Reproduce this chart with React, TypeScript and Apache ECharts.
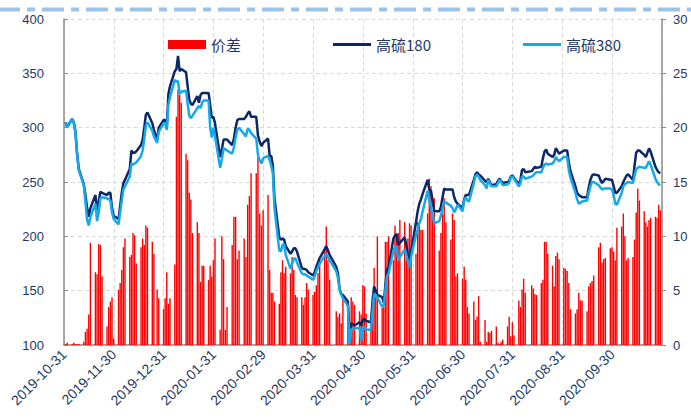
import React, { useEffect, useRef } from 'react';
import * as echarts from 'echarts';

// Month-end tick labels (one per vertical grid line)
const monthLabels = [
  '2019-10-31', '2019-11-30', '2019-12-31', '2020-01-31', '2020-02-29', '2020-03-31',
  '2020-04-30', '2020-05-31', '2020-06-30', '2020-07-31', '2020-08-31', '2020-09-30',
];
const seriesNames = ['价差', '高硫180', '高硫380'];

// Weekly rows, Monday..Friday; first row is the week of Mon 2019-10-28 (data begins Thu 2019-10-31)
const hs180: (number | null)[][] = [
  [null, null, null, 305, 301],
  [308, 305, 296, 276, 262],
  [248, 238, 226, 218, 226],
  [238, 224, 232, 241, 240],
  [238, 240, 240, 226, 219],
  [216, 228, 240, 249, 252],
  [262, 279, 277, 277, 278],
  [284, 289, 300, 312, 314],
  [304, 298, null, 289, 300],
  [307, 307, 299, 331, 338],
  [352, 354, 366, 352, 354],
  [351, 338, 326, 322, 321],
  [329, 323, 330, 332, 332],
  [332, 321, 309, 310, 304],
  [273, 280, 289, 289, 289],
  [284, 290, 300, 307, 308],
  [308, 310, 313, 315, 310],
  [310, 293, 287, 283, 286],
  [290, 274, 274, 265, 235],
  [199, 197, 198, 197, 191],
  [184, 186, 189, 189, 186],
  [171, 170, 170, 169, 167],
  [164, 167, 172, 176, 180],
  [188, 191, 187, 183, null],
  [172, 166, 152, 147, 146],
  [140, 112, 120, 119, 118],
  [121, 118, 123, 124, 122],
  [121, 140, 154, 150, 146],
  [144, 139, 155, 169, 172],
  [198, 201, 202, 192, 194],
  [199, 192, 183, 176, 186],
  [213, 223, 230, 234, 239],
  [252, 243, 242, 233, 223],
  [223, 227, 236, 244, 243],
  [243, 243, 236, 232, 230],
  [226, 234, 238, 238, 238],
  [252, 257, 259, 257, 256],
  [251, 250, 253, 250, 247],
  [248, 251, 253, 251, 249],
  [250, 251, 255, 256, 254],
  [248, 252, 261, 262, 259],
  [null, 260, 262, 264, 263],
  [264, 272, 278, 280, 276],
  [273, 275, 281, 279, 276],
  [279, 279, 279, 268, 260],
  [246, 240, 238, 237, 236],
  [236, 245, 252, 256, 257],
  [256, 252, 249, 251, 253],
  [252, 252, 246, 240, 240],
  [246, 250, 253, 256, 257],
  [252, 265, 277, 279, 279],
  [275, 273, 277, 281, 278],
  [264, 261, 259, 258],
];

const hs380: (number | null)[][] = [
  [null, null, null, 305, 300],
  [308, 304, 295, 275, 261],
  [247, 232, 215, 210, 218],
  [230, 214, 222, 235, 236],
  [235, 234, 233, 222, 216],
  [211, 222, 233, 243, 246],
  [255, 267, 266, 267, 268],
  [274, 279, 290, 302, 305],
  [297, 292, null, 286, 296],
  [304, 304, 298, 321, 328],
  [344, 342, 343, 331, 333],
  [334, 322, 311, 309, 311],
  [318, 320, 318, 323, 325],
  [325, 300, 291, 300, 292],
  [263, 271, 281, 280, 279],
  [276, 282, 291, 298, 300],
  [294, 292, 299, 298, 295],
  [290, 275, 270, 267, 272],
  [274, 270, 265, 258, 226],
  [187, 186, 192, 193, 183],
  [170, 175, 179, 180, 176],
  [166, 165, 165, 164, 163],
  [160, 163, 168, 171, 175],
  [182, 184, 181, 178, null],
  [168, 162, 151, 146, 143],
  [136, 101, 114, 115, 115],
  [116, 104, 116, 116, 114],
  [114, 130, 147, 146, 144],
  [135, 137, 150, 163, 166],
  [187, 190, 191, 178, 181],
  [188, 183, 177, 172, 181],
  [201, 206, 212, 216, 223],
  [242, 233, 227, 220, 212],
  [214, 219, 226, 232, 231],
  [228, 226, 222, 225, 229],
  [223, 233, 236, 233, 232],
  [249, 255, 257, 255, 252],
  [247, 244, 252, 249, 246],
  [246, 249, 252, 250, 247],
  [248, 249, 254, 255, 253],
  [246, 249, 255, 255, 253],
  [null, 255, 256, 258, 259],
  [259, 263, 266, 267, 266],
  [267, 269, 273, 271, 269],
  [273, 273, 273, 261, 254],
  [240, 234, 230, 231, 232],
  [233, 240, 246, 250, 250],
  [247, 245, 243, 244, 244],
  [244, 243, 238, 230, 229],
  [240, 246, 248, 249, 250],
  [249, 256, 262, 263, 264],
  [263, 263, 266, 269, 266],
  [253, 250, 248, 247],
];

const spread: (number | null)[][] = [
  [null, null, null, 0.1, 0.2],
  [0.1, 0.2, 0.1, 0.1, 0.1],
  [0.3, 1.2, 1.5, 2.8, 9.4],
  [6.7, 6.5, 9.3, 9.2, 6.3],
  [1.7, 3.5, 4.0, 4.4, 0.6],
  [5.1, 5.7, 6.9, 9.0, 9.8],
  [8.1, 8.3, 10.3, 10.1, 7.5],
  [9.0, 9.8, 9.2, 11.0, 10.8],
  [9.5, 8.4, null, 5.1, 4.3],
  [3.3, 4.3, 6.7, 3.8, 4.3],
  [7.4, 21.0, 23.5, 23.0, 22.3],
  [17.6, 17.0, 14.0, 13.4, 10.3],
  [11.3, 10.3, 5.8, 7.3, 7.3],
  [6.0, 7.3, 6.3, 7.8, 9.8],
  [1.4, 10.0, 7.9, 1.4, 3.5],
  [9.2, 11.8, 11.8, 7.9, 8.7],
  [9.8, 8.1, 12.9, 13.7, 15.8],
  [15.8, 17.3, 12.1, 11.0, 12.4],
  [13.8, 6.9, 4.8, 4.8, 4.0],
  [3.8, 6.7, 7.8, 6.6, 7.2],
  [6.6, 8.1, 6.9, 4.6, 4.4],
  [4.4, 3.7, 4.4, 5.7, 5.1],
  [4.6, 4.9, 5.5, 6.6, 7.8],
  [9.0, 10.9, 7.8, 6.0, null],
  [3.1, 2.6, 2.9, 2.0, 4.4],
  [2.6, 1.1, 4.4, 4.0, 3.7],
  [3.1, 2.8, 5.5, 5.4, 2.9],
  [2.0, 4.6, 7.1, 4.4, 10.0],
  [3.4, 3.5, 9.5, 9.5, 10.0],
  [7.8, 11.0, 10.1, 10.3, 11.5],
  [11.3, 8.0, 9.8, 11.2, 11.0],
  [8.4, 11.3, 11.0, 10.6, 10.6],
  [12.1, 15.3, 14.6, 12.0, 13.5],
  [8.7, 10.3, 12.1, 13.5, 11.3],
  [9.7, 12.1, 11.5, 6.3, 6.6],
  [6.1, 7.2, 6.0, 3.5, 2.9],
  [4.0, 2.3, 2.6, 4.5, 0.3],
  [2.3, 0.3, 1.2, 1.1, 1.3],
  [1.7, 0.2, 0.1, 0.3, 0.5],
  [1.7, 2.6, 0.8, 2.1, 0.9],
  [4.1, 3.5, 5.1, 6.1, 4.8],
  [null, 5.5, 5.2, 4.7, 4.6],
  [5.7, 6.0, 9.5, 9.5, 8.4],
  [7.3, 5.4, 8.2, 8.5, 7.9],
  [7.1, 7.0, 6.8, 5.7, 3.3],
  [2.9, 3.3, 4.8, 4.1, 4.1],
  [3.1, 5.4, 5.7, 5.9, 6.4],
  [9.0, 9.4, 7.6, 7.9, 8.0],
  [8.9, 9.0, 8.6, 7.8, 10.8],
  [10.9, 12.1, 10.0, 7.8, 8.0],
  [8.1, 9.7, 12.2, 14.4, 13.3],
  [12.3, 11.3, 10.9, 11.5, 11.7],
  [11.8, 11.7, 12.9, 12.4],
];

const FIRST_MONDAY = Date.UTC(2019, 9, 28);
const DAY_MS = 86400000;
const POS_SHIFT = 0.03;

// position of a date in "months since 2019-10-31" (each month spans one equal grid cell)
function monthPos(t: number): number {
  const d = new Date(t);
  const y = d.getUTCFullYear();
  const m = d.getUTCMonth();
  const day = d.getUTCDate();
  const dim = new Date(Date.UTC(y, m + 1, 0)).getUTCDate();
  return (y - 2019) * 12 + m - 10 + day / dim;
}

function toPoints(rows: (number | null)[][]): [number, number][] {
  const out: [number, number][] = [];
  rows.forEach((row, w) => {
    row.forEach((v, i) => {
      if (v === null || v === undefined) return;
      const p = monthPos(FIRST_MONDAY + (w * 7 + i) * DAY_MS);
      if (p < 0) return;
      out.push([p + POS_SHIFT, v]);
    });
  });
  return out;
}

const TEXT_COLOR = '#1F3864';
const AXIS_COLOR = '#8C8C8C';
const GRID_COLOR = '#D9D9D9';
const FONT = 'Liberation Sans, Arial, Noto Sans CJK SC, sans-serif';
const LINE_ICON = 'path://M0,0H38V3H0Z';

export default function App() {
  const ref = useRef<HTMLDivElement>(null);

  useEffect(() => {
    if (!ref.current) return;
    const chart = echarts.init(ref.current, undefined, { renderer: 'svg' });
    const option: any = {
      animation: false,
      backgroundColor: '#ffffff',
      textStyle: { fontFamily: FONT },
      grid: { left: 64, right: 29, top: 19, bottom: 74 },
      legend: {
        left: 163,
        top: 32,
        itemWidth: 38,
        itemHeight: 9,
        itemGap: 92,
        symbolKeepAspect: true,
        textStyle: { fontSize: 15, color: TEXT_COLOR, fontFamily: 'Noto Sans CJK SC' },
        data: [
          { name: seriesNames[0], icon: 'rect' },
          { name: seriesNames[1], icon: LINE_ICON, itemStyle: { color: '#0B2767' } },
          { name: seriesNames[2], icon: LINE_ICON, itemStyle: { color: '#16A9EA' } },
        ],
      },
      xAxis: {
        type: 'value',
        min: 0,
        max: 12,
        interval: 1,
        axisLine: { show: true, lineStyle: { color: AXIS_COLOR, width: 1.5 } },
        axisTick: { show: false },
        axisLabel: {
          rotate: 45,
          margin: 7,
          fontSize: 14,
          color: TEXT_COLOR,
          fontFamily: FONT,
          formatter: (v: number) => monthLabels[Math.round(v)] ?? '',
        },
        splitLine: { show: true, lineStyle: { color: GRID_COLOR, type: [4, 3], width: 1 } },
      },
      yAxis: [
        {
          type: 'value',
          min: 100,
          max: 400,
          interval: 50,
          position: 'left',
          axisLine: { show: true, lineStyle: { color: AXIS_COLOR, width: 1.5 } },
          axisTick: { show: true, inside: true, length: 4, lineStyle: { color: AXIS_COLOR } },
          axisLabel: { margin: 20, fontSize: 13, color: TEXT_COLOR, fontFamily: FONT },
          splitLine: { show: true, lineStyle: { color: GRID_COLOR, type: [4, 3], width: 1 } },
        },
        {
          type: 'value',
          min: 0,
          max: 30,
          interval: 5,
          position: 'right',
          axisLine: { show: true, lineStyle: { color: AXIS_COLOR, width: 1.5 } },
          axisTick: { show: true, inside: false, length: 4, lineStyle: { color: AXIS_COLOR } },
          axisLabel: { margin: 11, fontSize: 13, color: TEXT_COLOR, fontFamily: FONT },
          splitLine: { show: false },
        },
      ],
      series: [
        {
          name: seriesNames[0],
          type: 'bar',
          yAxisIndex: 1,
          barWidth: 1.4,
          itemStyle: { color: '#FF0000' },
          data: toPoints(spread),
        },
        {
          name: seriesNames[1],
          type: 'line',
          yAxisIndex: 0,
          symbol: 'none',
          showSymbol: false,
          lineStyle: { color: '#0B2767', width: 2.5 },
          itemStyle: { color: '#0B2767' },
          data: toPoints(hs180),
        },
        {
          name: seriesNames[2],
          type: 'line',
          yAxisIndex: 0,
          symbol: 'none',
          showSymbol: false,
          lineStyle: { color: '#16A9EA', width: 2.5 },
          itemStyle: { color: '#16A9EA' },
          data: toPoints(hs380),
        },
      ],
      graphic: [
        {
          type: 'line',
          silent: true,
          shape: { x1: -2, y1: 9.5, x2: 693, y2: 9.5 },
          style: { stroke: '#9DC3E6', lineWidth: 4, lineDash: [22, 7, 8, 7] },
        },
      ],
    };
    chart.setOption(option);
    return () => chart.dispose();
  }, []);

  return (
    <div
      ref={ref}
      style={{ position: 'fixed', left: 0, top: 0, width: 691, height: 419, background: '#fff' }}
    />
  );
}
